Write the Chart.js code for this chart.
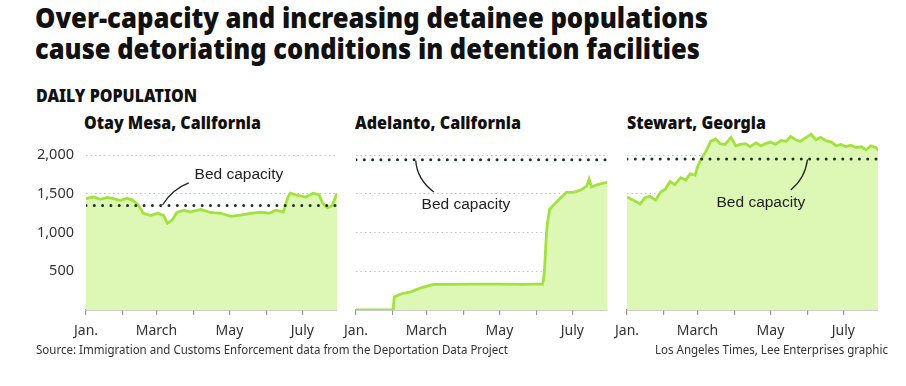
<!DOCTYPE html>
<html>
<head>
<meta charset="utf-8">
<script src="https://cdn.jsdelivr.net/npm/chart.js@4.4.1/dist/chart.umd.min.js"></script>
<style>
  html, body { margin: 0; padding: 0; background: #fff; }
  body { width: 906px; height: 386px; position: relative; overflow: hidden; font-family: 'Noto Sans', 'Liberation Sans', sans-serif; font-stretch: condensed; }
  .fit { position: absolute; white-space: nowrap; transform-origin: 0 0; }
  .title { left: 35px; font-weight: 900; font-size: 28px; line-height: 31px; color: #111; }
  .kicker { left: 36px; top: 84px; font-weight: 900; font-size: 17px; color: #111; }
  .panel-title { top: 110px; font-weight: 900; font-size: 17.5px; color: #111; }
  .foot { top: 340px; font-size: 13px; color: #333; }
  canvas { position: absolute; }
</style>
</head>
<body>
<div class="fit title" style="top:2px" data-w="673">Over-capacity and increasing detainee populations</div>
<div class="fit title" style="top:33px" data-w="665">cause detoriating conditions in detention facilities</div>
<div class="fit kicker" data-w="161">DAILY POPULATION</div>
<div class="fit panel-title" style="left:84px" data-w="177">Otay Mesa, California</div>
<div class="fit panel-title" style="left:355px" data-w="166">Adelanto, California</div>
<div class="fit panel-title" style="left:627px" data-w="139">Stewart, Georgia</div>
<canvas id="otay" width="315" height="215" style="left:30px; top:128px"></canvas>
<canvas id="adelanto" width="275" height="215" style="left:340px; top:128px"></canvas>
<canvas id="stewart" width="275" height="215" style="left:611px; top:128px"></canvas>
<div class="fit foot" style="left:36px" data-w="472">Source: Immigration and Customs Enforcement data from the Deportation Data Project</div>
<div class="fit foot" style="left:655px" data-w="233">Los Angeles Times, Lee Enterprises graphic</div>
<script>
// x values are days since Jan. 1
const monthStarts = [0, 31, 59, 90, 120, 151, 181];
const monthLabels = ['Jan.', '', 'March', '', 'May', '', 'July'];
const yTicks = [500, 1000, 1500, 2000];
const yTickLabels = ['500', '1,000', '1,500', '2,000'];

const otayDays = [0, 6, 12, 18, 23, 29, 34, 39, 44, 48, 54, 60, 65, 68, 72, 76, 82, 87, 96, 104, 113, 121, 129, 138, 146, 153, 159, 165, 169, 171, 177, 184, 190, 195, 198, 202, 206, 210];
const otayValues = [1440, 1460, 1430, 1455, 1440, 1415, 1445, 1420, 1350, 1250, 1220, 1250, 1220, 1120, 1160, 1260, 1290, 1265, 1300, 1260, 1250, 1210, 1225, 1250, 1265, 1250, 1290, 1265, 1460, 1510, 1480, 1460, 1510, 1490, 1380, 1320, 1350, 1510];
const otayCapacity = 1350;

const adelantoDays = [0, 31, 32, 38, 45, 50, 55, 65, 80, 100, 120, 140, 150, 156, 157, 158, 159, 160, 162, 168, 176, 182, 188, 193, 195, 197, 202, 210];
const adelantoValues = [0, 0, 170, 210, 230, 260, 290, 330, 330, 335, 335, 330, 335, 335, 400, 600, 900, 1100, 1300, 1400, 1520, 1520, 1550, 1600, 1690, 1590, 1620, 1650];
const adelantoCapacity = 1940;

const stewartDays = [0, 5, 11, 15, 19, 24, 28, 32, 36, 40, 45, 49, 53, 57, 59, 61, 66, 70, 74, 78, 82, 87, 91, 95, 99, 103, 108, 112, 116, 120, 124, 129, 133, 137, 141, 145, 150, 154, 158, 162, 166, 171, 175, 179, 183, 187, 192, 196, 200, 204, 208, 211];
const stewartValues = [1460, 1420, 1370, 1450, 1470, 1420, 1520, 1560, 1660, 1620, 1710, 1680, 1760, 1740, 1850, 1920, 2050, 2180, 2210, 2150, 2140, 2230, 2120, 2140, 2150, 2110, 2160, 2120, 2150, 2170, 2140, 2190, 2180, 2240, 2200, 2180, 2230, 2270, 2200, 2230, 2190, 2170, 2120, 2140, 2110, 2130, 2100, 2110, 2070, 2120, 2100, 2060];
const stewartCapacity = 1950;

const tickFont = { family: "'Noto Sans', 'Liberation Sans', sans-serif", style: 'condensed', size: 14 };

// squeeze the html text lines to the widths measured on the original
function fitText() {
    document.querySelectorAll('.fit').forEach(el => {
        const w = el.getBoundingClientRect().width;
        const target = +el.dataset.w;
        if (w > 0 && target) el.style.transform = `scaleX(${target / w})`;
    });
}

// draws the "Bed capacity" label and its leader line
const noteLine = {
    id: 'noteLine',
    afterDatasetsDraw(chart, args, opts) {
        if (!opts || !opts.text) return;
        const { ctx, scales: { x, y } } = chart;
        const px = v => x.getPixelForValue(v[0]);
        const py = v => y.getPixelForValue(v[1]);
        ctx.save();
        ctx.strokeStyle = '#222';
        ctx.lineWidth = 1.3;
        ctx.beginPath();
        ctx.moveTo(px(opts.from), py(opts.from));
        ctx.quadraticCurveTo(px(opts.ctrl), py(opts.ctrl), px(opts.to), py(opts.to));
        ctx.stroke();
        ctx.fillStyle = '#222';
        ctx.font = "15.5px 'Liberation Sans', Arial, sans-serif";
        ctx.textAlign = 'center';
        ctx.textBaseline = 'middle';
        ctx.fillText(opts.text, px(opts.at), py(opts.at));
        ctx.restore();
    }
};

function makeChart(id, days, values, capacity, showY, note) {
    const points = days.map((d, i) => ({ x: d, y: values[i] }));
    const bed = [{ x: 0, y: capacity }, { x: 210, y: capacity }];
    return new Chart(document.getElementById(id), {
        type: 'line',
        data: {
            datasets: [{
                data: bed,
                borderColor: '#1c3324',
                borderWidth: 3,
                borderDash: [0, 8.3],
                borderCapStyle: 'round',
                pointRadius: 0,
                fill: false,
                order: 0
            }, {
                data: points,
                borderColor: '#a2e23c',
                backgroundColor: '#ddf8b4',
                borderWidth: 2.8,
                pointRadius: 0,
                tension: 0,
                fill: 'origin',
                order: 1
            }]
        },
        options: {
            responsive: false,
            animation: false,
            events: [],
            layout: { padding: { top: 4, right: 8, left: 0, bottom: 0 } },
            plugins: {
                legend: { display: false },
                tooltip: { enabled: false },
                noteLine: note
            },
            scales: {
                x: {
                    type: 'linear',
                    min: 0,
                    max: 210,
                    afterBuildTicks: s => { s.ticks = monthStarts.map(v => ({ value: v })); },
                    afterFit: s => { s.height = 33; s.paddingLeft = 0; s.paddingRight = 0; },
                    grid: {
                        drawOnChartArea: false,
                        drawTicks: true,
                        tickLength: 5,
                        color: '#999',
                        lineWidth: 1.2
                    },
                    border: { display: true, color: '#9a9a9a', width: 1.5 },
                    ticks: {
                        autoSkip: false,
                        maxRotation: 0,
                        padding: 8,
                        color: '#333',
                        font: tickFont,
                        callback: v => monthLabels[monthStarts.indexOf(v)] || ''
                    }
                },
                y: {
                    min: 0,
                    max: 2300,
                    afterBuildTicks: s => { s.ticks = yTicks.map(v => ({ value: v })); },
                    afterFit: s => { s.width = showY ? 56 : 16; s.paddingTop = 0; s.paddingBottom = 0; },
                    grid: {
                        drawTicks: false,
                        color: '#c4c4c4',
                        lineWidth: 1
                    },
                    border: { display: false, dash: [1.5, 3] },
                    ticks: {
                        display: showY,
                        padding: 12,
                        color: '#333',
                        font: { ...tickFont, size: 14.5 },
                        callback: v => yTickLabels[yTicks.indexOf(v)] || ''
                    }
                }
            }
        },
        plugins: [noteLine]
    });
}

fitText();
makeChart('otay', otayDays, otayValues, otayCapacity, true, {
    text: 'Bed capacity', at: [128, 1747], from: [64, 1357], ctrl: [72, 1560], to: [86, 1643]
});
makeChart('adelanto', adelantoDays, adelantoValues, adelantoCapacity, false, {
    text: 'Bed capacity', at: [92, 1357], from: [50, 1930], ctrl: [51, 1690], to: [65, 1526]
});
makeChart('stewart', stewartDays, stewartValues, stewartCapacity, false, {
    text: 'Bed capacity', at: [112, 1383], from: [151, 1945], ctrl: [149, 1700], to: [137, 1552]
});
</script>
</body>
</html>
